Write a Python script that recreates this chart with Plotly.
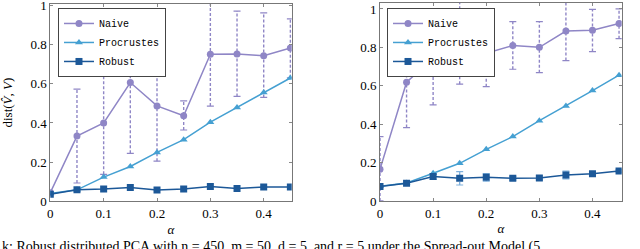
import plotly.graph_objects as go

alpha = [0.0, 0.05, 0.10, 0.15, 0.20, 0.25, 0.30, 0.35, 0.40, 0.45]

# Left panel
left_naive = [0.045, 0.333, 0.400, 0.606, 0.487, 0.437, 0.750, 0.751, 0.743, 0.782]
left_naive_hi = [0.05, 0.572, 0.662, 0.744, 0.766, 0.513, 1.014, 0.970, 0.961, 0.930]
left_naive_lo = [0.04, 0.094, 0.138, 0.245, 0.205, 0.364, 0.486, 0.535, 0.530, 0.630]
left_procrustes = [0.040, 0.059, 0.124, 0.178, 0.250, 0.315, 0.404, 0.479, 0.555, 0.629]
left_robust = [0.037, 0.059, 0.063, 0.071, 0.058, 0.063, 0.076, 0.066, 0.073, 0.073]

# Right panel
right_naive = [0.165, 0.618, 0.743, 0.820, 0.769, 0.809, 0.800, 0.885, 0.889, 0.924]
right_naive_hi = [0.335, 0.854, 0.986, 1.050, 0.943, 0.934, 0.934, 1.039, 0.998, 1.000]
right_naive_lo = [0.000, 0.382, 0.500, 0.608, 0.595, 0.686, 0.668, 0.731, 0.778, 0.845]
right_procrustes = [0.077, 0.094, 0.144, 0.196, 0.269, 0.335, 0.418, 0.495, 0.575, 0.655]
right_robust = [0.075, 0.092, 0.127, 0.118, 0.123, 0.118, 0.120, 0.135, 0.142, 0.156]
right_robust_hi = [0.080, 0.098, 0.142, 0.153, 0.143, 0.128, 0.130, 0.155, 0.152, 0.162]
right_robust_lo = [0.070, 0.086, 0.112, 0.083, 0.103, 0.108, 0.110, 0.115, 0.132, 0.150]

x_ticks = [0, 0.1, 0.2, 0.3, 0.4]
x_tick_labels = ["0", "0.1", "0.2", "0.3", "0.4"]
y_ticks = [0, 0.2, 0.4, 0.6, 0.8, 1.0]
y_tick_labels = ["0", "0.2", "0.4", "0.6", "0.8", "1"]

series_names = ["Naive", "Procrustes", "Robust"]
caption = "k: Robust distributed PCA with n = 450, m = 50, d = 5, and r = 5 under the Spread-out Model (5"

C_NAIVE = "#8f86c6"
C_PROC = "#45a0d2"
C_ROB = "#1c5898"
C_ROB_ERR = "#7fb0dc"

SERIF = "Liberation Serif, DejaVu Serif, serif"
MONO = "Liberation Mono, DejaVu Sans Mono, monospace"

fig = go.Figure()


def add_err(xs, lo, hi, color, xa, ya):
    sx, sy = [], []
    for a, l, h in zip(xs, lo, hi):
        sx += [a, a, None]
        sy += [l, h, None]
    fig.add_trace(go.Scatter(x=sx, y=sy, mode="lines", xaxis=xa, yaxis=ya,
                             line=dict(color=color, width=1.4, dash="3px,2px"),
                             showlegend=False, hoverinfo="skip"))
    fig.add_trace(go.Scatter(x=list(xs) + list(xs), y=list(lo) + list(hi), mode="markers",
                             xaxis=xa, yaxis=ya,
                             marker=dict(symbol="line-ew", size=5, color=color,
                                         line=dict(color=color, width=1.2)),
                             showlegend=False, hoverinfo="skip"))


add_err(alpha[1:], left_naive_lo[1:], left_naive_hi[1:], C_NAIVE, "x", "y")
add_err(alpha, right_naive_lo, right_naive_hi, C_NAIVE, "x2", "y2")
add_err(alpha[2:], right_robust_lo[2:], right_robust_hi[2:], C_ROB_ERR, "x2", "y2")

for xa, ya, leg, data in [
    ("x", "y", "legend", (left_naive, left_procrustes, left_robust)),
    ("x2", "y2", "legend2", (right_naive, right_procrustes, right_robust)),
]:
    for name, vals, color, sym in zip(series_names, data, [C_NAIVE, C_PROC, C_ROB],
                                      ["circle", "triangle-up", "square"]):
        fig.add_trace(go.Scatter(x=alpha, y=vals, mode="lines+markers", name=name,
                                 xaxis=xa, yaxis=ya, legend=leg,
                                 line=dict(color=color, width=1.5),
                                 marker=dict(symbol=sym, size=7, color=color,
                                             line=dict(width=0))))

tick_font = dict(family=SERIF, size=13, color="black")
title_font = dict(family=SERIF, size=13, color="black")
ax_common = dict(showline=True, mirror="ticks", linecolor="#777777", linewidth=1,
                 ticks="inside", ticklen=3, tickcolor="#888888", tickwidth=0.8,
                 showgrid=False, zeroline=False, tickfont=tick_font, automargin=False,
                 ticklabeloverflow="allow")

fig.update_layout(
    width=640, height=249,
    margin=dict(l=0, r=0, t=0, b=0),
    paper_bgcolor="white", plot_bgcolor="white",
    xaxis=dict(domain=[0.0786, 0.4558], range=[0, 0.4525], tickvals=x_ticks,
               ticktext=x_tick_labels, anchor="y",
               title=dict(text="<i>α</i>", font=title_font, standoff=4), **ax_common),
    yaxis=dict(domain=[0.191, 0.985], range=[0, 1.0076], tickvals=y_ticks,
               ticktext=y_tick_labels, anchor="x",
               title=dict(text="dist(<i>V̂</i>, <i>V</i>)", font=title_font, standoff=18),
               **ax_common),
    xaxis2=dict(domain=[0.59375, 0.9714], range=[0, 0.455], tickvals=x_ticks,
                ticktext=x_tick_labels, anchor="y2",
                title=dict(text="<i>α</i>", font=title_font, standoff=4), **ax_common),
    yaxis2=dict(domain=[0.193, 0.988], range=[0, 1.031], tickvals=y_ticks,
                ticktext=y_tick_labels, anchor="x2", **ax_common),
    legend=dict(x=0.0906, y=0.968, xanchor="left", yanchor="top",
                bgcolor="white", bordercolor="#444444", borderwidth=1,
                font=dict(family=MONO, size=10, color="black"),
                tracegroupgap=0, itemwidth=30),
    legend2=dict(x=0.6047, y=0.968, xanchor="left", yanchor="top",
                 bgcolor="white", bordercolor="#444444", borderwidth=1,
                 font=dict(family=MONO, size=10, color="black"),
                 tracegroupgap=0, itemwidth=30),
    annotations=[dict(text=caption, xref="paper", yref="paper", x=0.0, y=1 - 237 / 249,
                      xanchor="left", yanchor="top", showarrow=False,
                      font=dict(family=SERIF, size=14, color="black"))],
)

fig.write_html("out.html", config={"displayModeBar": False},
               post_script="document.body.style.margin='0px';")
